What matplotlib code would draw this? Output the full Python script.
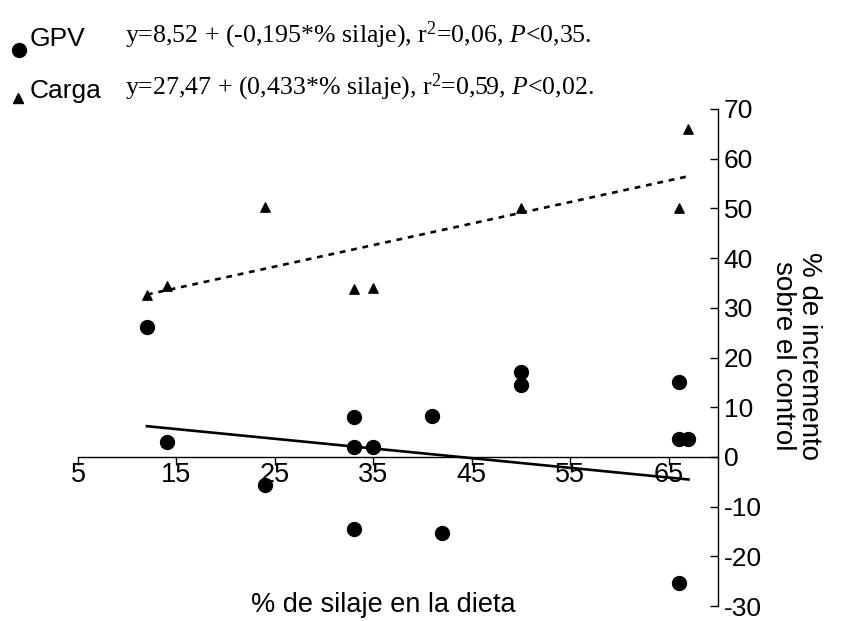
import matplotlib
matplotlib.use("Agg")
import matplotlib.pyplot as plt
from matplotlib.lines import Line2D
import numpy as np

# % silaje en la dieta vs % de incremento sobre el control
gpv_x = [12, 14, 24, 33, 33, 33, 35, 41, 42, 50, 50, 66, 66, 67, 66]
gpv_y = [26.2, 3.0, -5.6, 8.0, 2.0, -14.6, 2.0, 8.2, -15.3, 17.0, 14.4, 15.0, 3.6, 3.6, -25.4]
carga_x = [12, 14, 24, 33, 35, 50, 66, 67]
carga_y = [32.6, 34.4, 50.2, 33.8, 34.0, 50.0, 50.0, 66.0]

# rectas de regresion
gpv_fit = (8.52, -0.195)
carga_fit = (27.47, 0.433)
fit_x = [12, 67]

xticks = [5, 15, 25, 35, 45, 55, 65]
yticks = [-30, -20, -10, 0, 10, 20, 30, 40, 50, 60, 70]

plt.rcParams["font.family"] = ["Liberation Sans", "DejaVu Sans"]
plt.rcParams["mathtext.fontset"] = "custom"
plt.rcParams["mathtext.rm"] = "Liberation Serif"
plt.rcParams["mathtext.it"] = "Liberation Serif:italic"

fig = plt.figure(figsize=(8.49, 6.21), dpi=100)
ax = fig.add_axes([78 / 849, 15 / 621, 640 / 849, 497 / 621])

ax.scatter(gpv_x, gpv_y, color="black", marker="o", s=100, zorder=3)
ax.scatter(carga_x, carga_y, color="black", marker="^", s=45, zorder=3)

fx = np.array(fit_x)
ax.plot(fx, gpv_fit[0] + gpv_fit[1] * fx, color="black", lw=1.9)
ax.plot(fx, carga_fit[0] + carga_fit[1] * fx, color="black", lw=1.9,
        linestyle=(0, (2.2, 2.2)))

ax.set_xlim(5, 70)
ax.set_ylim(-30, 70)
ax.spines["left"].set_visible(False)
ax.spines["top"].set_visible(False)
ax.spines["bottom"].set_position(("data", 0))
ax.spines["bottom"].set_linewidth(1.0)
ax.spines["right"].set_linewidth(1.0)

ax.set_xticks(xticks)
ax.set_xticklabels([str(v) for v in xticks])
ax.set_yticks(yticks)
ax.set_yticklabels([str(v) for v in yticks])
ax.yaxis.tick_right()
ax.tick_params(axis="x", direction="out", length=6, width=1, pad=-2, labelsize=19.5)
ax.tick_params(axis="y", direction="in", length=6, width=1, pad=4, labelsize=19)

fig.text(383 / 849, 1 - 605 / 621, "% de silaje en la dieta", fontsize=19.5,
         ha="center", va="center")
fig.text(796 / 849, 1 - 356 / 621, "% de incremento\nsobre el control", fontsize=20,
         ha="center", va="center", rotation=270, linespacing=0.95)

# leyenda manual
fig.add_artist(Line2D([19 / 849], [1 - 50 / 621], transform=fig.transFigure,
                      marker="o", markersize=10, color="black", linestyle="none"))
fig.add_artist(Line2D([18 / 849], [1 - 98 / 621], transform=fig.transFigure,
                      marker="^", markersize=6.5, color="black", linestyle="none"))
fig.text(30 / 849, 1 - 39 / 621, "GPV", fontsize=19, ha="left", va="center")
fig.text(30 / 849, 1 - 91 / 621, "Carga", fontsize=19, ha="left", va="center")

serif = ["Liberation Serif", "DejaVu Serif"]
fig.text(125 / 849, 1 - 35 / 621,
         r"y=8,52 + (-0,195*% silaje), r$^{2}$=0,06, $\mathit{P}$<0,35.",
         fontsize=18.6, family=serif, ha="left", va="center")
fig.text(125 / 849, 1 - 87 / 621,
         r"y=27,47 + (0,433*% silaje), r$^{2}$=0,59, $\mathit{P}$<0,02.",
         fontsize=18.6, family=serif, ha="left", va="center")

fig.savefig("out.png", dpi=100)
